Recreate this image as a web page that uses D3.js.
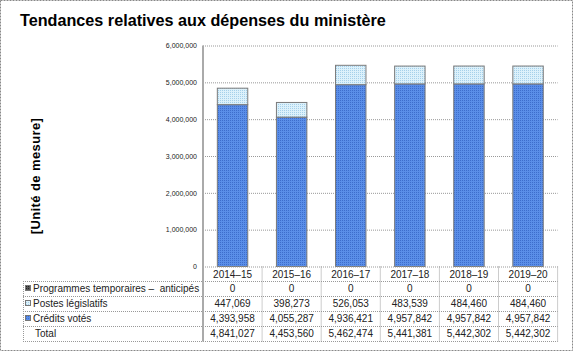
<!DOCTYPE html>
<html>
<head>
<meta charset="utf-8">
<script src="https://cdn.jsdelivr.net/npm/d3@7"></script>
<style>
  html, body { margin: 0; padding: 0; background: #fff; }
  svg { display: block; font-family: Arial, "Liberation Sans", sans-serif; }
</style>
</head>
<body>
<svg id="chart" width="573" height="351"></svg>
<script>
const title = "Tendances relatives aux dépenses du ministère";
const yAxisTitle = "[Unité de mesure]";
const years = ["2014–15", "2015–16", "2016–17", "2017–18", "2018–19", "2019–20"];
const programmes = [0, 0, 0, 0, 0, 0];
const postes = [447069, 398273, 526053, 483539, 484460, 484460];
const credits = [4393958, 4055287, 4936421, 4957842, 4957842, 4957842];
const totals = [4841027, 4453560, 5462474, 5441381, 5442302, 5442302];
const yTicks = [0, 1000000, 2000000, 3000000, 4000000, 5000000, 6000000];
const seriesNames = ["Programmes temporaires –  anticipés", "Postes législatifs", "Crédits votés"];

const svg = d3.select("#chart");
const W = 573, H = 351;
const plotL = 203, plotR = 557.6, plotT = 45.5, plotB = 266.5;
const tableL = 23;
const rowH = 15;
const headerB = 281;

// patterns
const defs = svg.append("defs");
function dotPattern(id, bg, dot) {
  const p = defs.append("pattern").attr("id", id).attr("width", 2).attr("height", 2)
    .attr("patternUnits", "userSpaceOnUse");
  p.append("rect").attr("width", 2).attr("height", 2).attr("fill", bg);
  p.append("rect").attr("width", 1).attr("height", 1).attr("fill", dot);
}
dotPattern("pBlue", "#5a8ee8", "#3d6dcc");
dotPattern("pLight", "#dcf1fb", "#a5d0ea");
dotPattern("pDark", "#555", "#222");
const fills = ["url(#pDark)", "url(#pLight)", "url(#pBlue)"];

// outer border
svg.append("rect").attr("x", 0.5).attr("y", 0.5).attr("width", W - 1).attr("height", H - 1)
  .attr("fill", "none").attr("stroke", "#888").attr("stroke-dasharray", "2,1");

// title
svg.append("text").attr("x", 20).attr("y", 26).attr("font-size", 16.2).attr("font-weight", "bold")
  .attr("fill", "#000").text(title);

// y axis title
svg.append("text").attr("transform", "translate(40,176) rotate(-90)")
  .attr("text-anchor", "middle").attr("font-size", 13).attr("font-weight", "bold")
  .attr("letter-spacing", 0.4).attr("fill", "#000").text(yAxisTitle);

const y = d3.scaleLinear().domain([0, 6000000]).range([plotB, plotT]);
const xCell = d3.scaleBand().domain(years).range([plotL, plotR]).padding(0);
const xBar = d3.scaleBand().domain(years).range([plotL, plotR]).paddingInner(0.485).paddingOuter(0.2425);

// gridlines
const grid = svg.append("g").attr("transform", `translate(${plotL},0)`)
  .call(d3.axisLeft(y).tickValues(yTicks.slice(1)).tickSize(-(plotR - plotL)).tickFormat(""));
grid.select(".domain").remove();
grid.selectAll("line").attr("stroke", "#999").attr("stroke-dasharray", "1,1");

// y axis labels
const yAx = svg.append("g").attr("transform", `translate(${plotL - 6},0)`)
  .call(d3.axisLeft(y).tickValues(yTicks).tickSize(0).tickPadding(0).tickFormat(d3.format(",")));
yAx.select(".domain").remove();
yAx.selectAll("text").attr("font-size", 7).attr("fill", "#222").attr("font-family", "Arial, 'Liberation Sans', sans-serif");

// stacked bars
const rows = years.map((yr, i) => ({ year: yr, credits: credits[i], postes: postes[i], programmes: programmes[i] }));
const stack = d3.stack().keys(["credits", "postes", "programmes"]);
const stacked = stack(rows);
const keyFill = { credits: fills[2], postes: fills[1], programmes: fills[0] };
stacked.forEach(s => {
  svg.append("g").selectAll("rect").data(s).join("rect")
    .filter(d => d[1] - d[0] > 0)
    .attr("x", d => xBar(d.data.year))
    .attr("width", xBar.bandwidth())
    .attr("y", d => y(d[1]))
    .attr("height", d => y(d[0]) - y(d[1]))
    .attr("fill", keyFill[s.key])
    .attr("stroke", "#7a7a7a").attr("stroke-width", 1);
});

// table
const tbl = svg.append("g");
const dotted = sel => sel.attr("stroke", "#999").attr("stroke-dasharray", "1,1").attr("stroke-width", 1);
tbl.append("line").attr("x1", plotL).attr("x2", plotR).attr("y1", plotB + 0.5).attr("y2", plotB + 0.5).call(dotted);
for (let r = 0; r <= 4; r++) {
  const yy = headerB + r * rowH + 0.5;
  tbl.append("line").attr("x1", tableL).attr("x2", plotR).attr("y1", yy).attr("y2", yy).call(dotted);
}
years.forEach(yr => {
  const xx = xCell(yr) + xCell.bandwidth();
  tbl.append("line").attr("x1", xx).attr("x2", xx).attr("y1", plotB).attr("y2", headerB + 4 * rowH + 0.5).call(dotted);
});
tbl.append("line").attr("x1", tableL + 0.5).attr("x2", tableL + 0.5).attr("y1", headerB).attr("y2", headerB + 4 * rowH + 0.5).call(dotted);

tbl.selectAll("text.hdr").data(years).join("text").attr("class", "hdr")
  .attr("x", d => xCell(d) + xCell.bandwidth() / 2).attr("y", plotB + 11)
  .attr("text-anchor", "middle").attr("font-size", 10).attr("fill", "#222").text(d => d);

const fmt = d3.format(",");
const tableRows = [
  { label: seriesNames[0], vals: programmes, fill: fills[0] },
  { label: seriesNames[1], vals: postes, fill: fills[1] },
  { label: seriesNames[2], vals: credits, fill: fills[2] },
  { label: "Total", vals: totals, fill: null }
];
tableRows.forEach((row, r) => {
  const top = headerB + r * rowH;
  const ty = top + 11;
  if (row.fill) {
    tbl.append("rect").attr("x", 25.5).attr("y", top + 4.5).attr("width", 5).attr("height", 5)
      .attr("fill", row.fill).attr("stroke", "#777").attr("stroke-width", 1);
  }
  tbl.append("text").attr("x", row.fill ? 33 : 35).attr("y", ty).attr("font-size", 10).attr("fill", "#222")
    .attr("xml:space", "preserve").style("white-space", "pre").text(row.label);
  row.vals.forEach((v, i) => {
    tbl.append("text").attr("x", xCell(years[i]) + xCell.bandwidth() / 2).attr("y", ty)
      .attr("text-anchor", "middle").attr("font-size", 10).attr("fill", "#222").text(fmt(v));
  });
});

svg.append("line").attr("x1", plotL).attr("x2", plotL).attr("y1", plotT).attr("y2", headerB + 4 * rowH + 0.5)
  .attr("stroke", "#aaa").attr("stroke-width", 2);
</script>
</body>
</html>
